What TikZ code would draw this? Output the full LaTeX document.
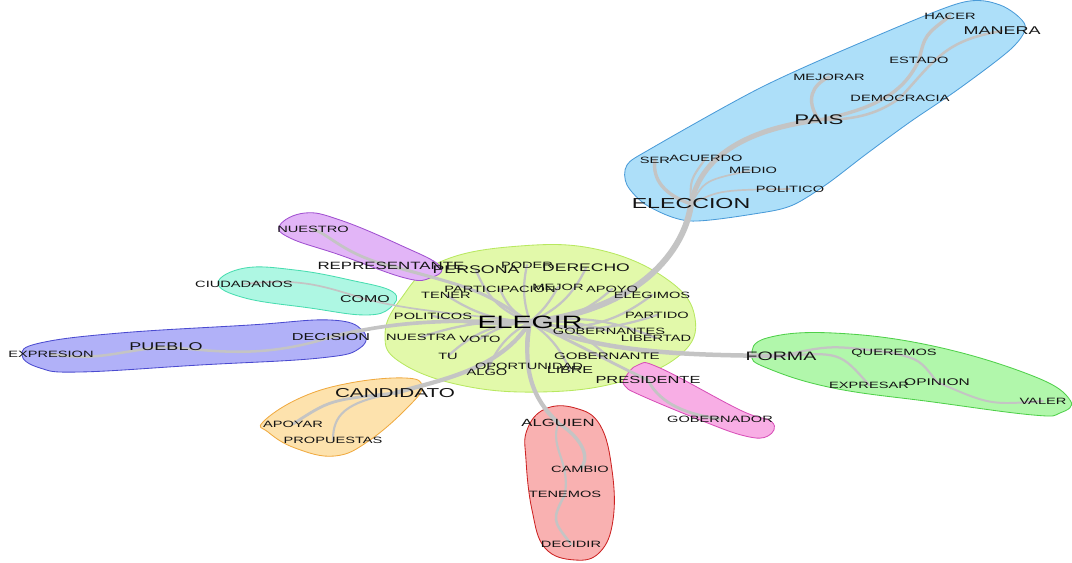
\documentclass[tikz,border=0pt]{standalone}
\usepackage{fontspec}
\setmainfont{Liberation Sans}
\usetikzlibrary{backgrounds}

\definecolor{edgegray}{HTML}{C4C4C4}
\definecolor{cenfill}{HTML}{E2F9AA}
\definecolor{cenline}{HTML}{B8E860}
\definecolor{bluefill}{HTML}{ADDFF9}
\definecolor{blueline}{HTML}{4A9BD8}
\definecolor{purpfill}{HTML}{E2B5F7}
\definecolor{purpline}{HTML}{A050D0}
\definecolor{mintfill}{HTML}{AEF7E3}
\definecolor{mintline}{HTML}{48DDB0}
\definecolor{violfill}{HTML}{B1B1F8}
\definecolor{violline}{HTML}{4B4BD0}
\definecolor{orfill}{HTML}{FDE2AD}
\definecolor{orline}{HTML}{F0AA40}
\definecolor{redfill}{HTML}{F9B1B1}
\definecolor{redline}{HTML}{CC2222}
\definecolor{pinkfill}{HTML}{F8AEE5}
\definecolor{pinkline}{HTML}{D84FB8}
\definecolor{grfill}{HTML}{B1F7AB}
\definecolor{grline}{HTML}{4FD04A}

\tikzset{
  word/.style={font=\fontsize{#1}{#1}\selectfont, xscale=1.6, inner sep=0pt, text=black!92},
  word/.default=6.5,
  blob/.style 2 args={fill=#1, draw=#2, line width=0.6pt},
  edge/.style={draw=edgegray, line width=#1, line cap=round},
  edge/.default=1.6pt
}

\begin{document}
\begin{tikzpicture}[x=0.025cm, y=-0.025cm]
	\useasboundingbox (0,0) rectangle (1072,563);

	% central cluster
	\node[word=12.7, text=black] (elegir) at (530,322) {ELEGIR};
	\node[word] (poder) at (527,265) {PODER};
	\node[word=7.9] (persona) at (476,270) {PERSONA};
	\node[word=7.8] (derecho) at (586,268) {DERECHO};
	\node[word] (participacion) at (500,289) {PARTICIPACION};
	\node[word] (mejor) at (558,287) {MEJOR};
	\node[word] (apoyo) at (612,289) {APOYO};
	\node[word] (tener) at (446,295) {TENER};
	\node[word] (elegimos) at (652,295) {ELEGIMOS};
	\node[word] (politicos) at (433,316) {POLITICOS};
	\node[word] (partido) at (657,315) {PARTIDO};
	\node[word] (nuestra) at (421,337) {NUESTRA};
	\node[word] (voto) at (480,339) {VOTO};
	\node[word] (gobernantes) at (609,331) {GOBERNANTES};
	\node[word] (libertad) at (656,338) {LIBERTAD};
	\node[word] (tu) at (448,356) {TU};
	\node[word=6.7] (gobernante) at (607,356) {GOBERNANTE};
	\node[word] (oportunidad) at (529,366) {OPORTUNIDAD};
	\node[word] (algo) at (487,372) {ALGO};
	\node[word=7.1] (libre) at (570,370) {LIBRE};

	% eleccion / pais
	\node[word=10.3] (eleccion) at (691,204) {ELECCION};
	\node[word] (ser) at (655,160) {SER};
	\node[word] (acuerdo) at (706,158) {ACUERDO};
	\node[word] (medio) at (753,170) {MEDIO};
	\node[word] (politico) at (790,189) {POLITICO};
	\node[word=9.9] (pais) at (819,120) {PAIS};
	\node[word] (mejorar) at (829,77) {MEJORAR};
	\node[word] (democracia) at (900,98) {DEMOCRACIA};
	\node[word] (estado) at (919,60) {ESTADO};
	\node[word] (hacer) at (950,16) {HACER};
	\node[word=8] (manera) at (1002,31) {MANERA};

	% left side
	\node[word=7.5] (representante) at (391,266) {REPRESENTANTE};
	\node[word] (nuestro) at (313,229) {NUESTRO};
	\node[word] (ciudadanos) at (244,284) {CIUDADANOS};
	\node[word=7.1] (como) at (365,299) {COMO};
	\node[word=7.2] (decision) at (331,337) {DECISION};
	\node[word=8] (pueblo) at (166,347) {PUEBLO};
	\node[word] (expresion) at (51,354) {EXPRESION};

	% bottom
	\node[word=9.2] (candidato) at (395,393) {CANDIDATO};
	\node[word] (apoyar) at (293,424) {APOYAR};
	\node[word] (propuestas) at (333,440) {PROPUESTAS};
	\node[word=7.4] (alguien) at (558,423) {ALGUIEN};
	\node[word] (cambio) at (580,469) {CAMBIO};
	\node[word] (tenemos) at (565,494) {TENEMOS};
	\node[word] (decidir) at (571,544) {DECIDIR};
	\node[word=7.3] (presidente) at (648,380) {PRESIDENTE};
	\node[word] (gobernador) at (720,419) {GOBERNADOR};

	% right
	\node[word=8.7] (forma) at (781,356) {FORMA};
	\node[word] (queremos) at (894,353) {QUEREMOS};
	\node[word] (expresar) at (869,385) {EXPRESAR};
	\node[word=6.9] (opinion) at (937,382) {OPINION};
	\node[word] (valer) at (1043,401) {VALER};

	\begin{scope}[on background layer]
	% blobs
	\draw[blob={cenfill}{cenline}] plot[smooth cycle, tension=0.7] coordinates {(400,300) (440,262) (520,246) (600,250) (668,280) (695,318) (680,355) (620,382) (540,392) (460,385) (400,362) (385,335)};
	\draw[blob={bluefill}{blueline}] plot[smooth cycle, tension=0.5] coordinates {(627,165) (652,148) (760,88) (860,43) (960,3) (1000,5) (1025,25) (1012,48) (960,88) (910,122) (865,155) (827,184) (793,205) (760,213) (690,221) (648,206) (627,185)};
	\draw[blob={purpfill}{purpline}] plot[smooth cycle, tension=0.7] coordinates {(280,225) (305,213) (340,220) (400,245) (440,266) (430,278) (405,278) (340,255) (290,238)};
	\draw[blob={mintfill}{mintline}] plot[smooth cycle, tension=0.7] coordinates {(218,283) (245,268) (295,270) (350,280) (393,292) (390,308) (365,315) (310,308) (245,298)};
	\draw[blob={violfill}{violline}] plot[smooth cycle, tension=0.7] coordinates {(22,355) (40,343) (120,333) (250,325) (330,320) (362,330) (360,348) (320,358) (200,365) (80,372) (40,368)};
	\draw[blob={orfill}{orline}] plot[smooth cycle, tension=0.7] coordinates {(263,422) (300,398) (350,383) (405,378) (422,386) (410,405) (370,440) (335,456) (295,448) (268,432)};
	\draw[blob={redfill}{redline}] plot[smooth cycle, tension=0.7] coordinates {(527,430) (545,409) (575,408) (600,425) (612,470) (613,520) (600,552) (575,560) (545,548) (532,510) (526,460)};
	\draw[blob={pinkfill}{pinkline}] plot[smooth cycle, tension=0.7] coordinates {(625,378) (638,365) (660,368) (740,410) (772,422) (768,436) (745,436) (700,420) (640,395) (625,386)};
	\draw[blob={grfill}{grline}] plot[smooth cycle, tension=0.7] coordinates {(752,355) (767,338) (833,333) (933,346) (1033,376) (1070,400) (1060,413) (1033,415) (933,402) (833,388) (767,368)};

	% spokes of the central word
	\foreach \n/\b in {poder/15, persona/25, derecho/-20, participacion/20, mejor/-10,
		apoyo/-20, tener/15, elegimos/-25, politicos/10, partido/-15, nuestra/-10,
		voto/-15, gobernantes/10, libertad/15, tu/-20, gobernante/20,
		oportunidad/-15, algo/-20, libre/15}
		\draw[edge] (elegir.center) to[bend left=\b] (\n.center);

	% branches
	\draw[edge=4.3pt] (elegir.center) .. controls (640,310) and (685,250) .. (eleccion.center);
	\draw[edge=3.6pt] (eleccion.center) .. controls (700,160) and (740,130) .. (pais.center);
	\draw[edge=2.4pt] (eleccion.center) .. controls (665,195) and (652,180) .. (ser.center);
	\draw[edge=1.5pt] (eleccion.center) .. controls (690,180) .. (acuerdo.center);
	\draw[edge=1.2pt] (eleccion.center) .. controls (705,180) .. (medio.center);
	\draw[edge=1.2pt] (eleccion.center) .. controls (720,190) .. (politico.center);
	\draw[edge=2.4pt] (pais.center) .. controls (805,100) and (812,85) .. (mejorar.center);
	\draw[edge=2.4pt] (pais.center) .. controls (880,108) and (905,90) .. (estado.center);
	\draw[edge=2.4pt] (estado.center) .. controls (925,35) .. (hacer.center);
	\draw[edge=1.8pt] (pais.center) .. controls (860,120) and (880,112) .. (democracia.center);
	\draw[edge=1.8pt] (democracia.center) .. controls (935,60) and (945,40) .. (manera.center);

	\draw[edge=2.2pt] (elegir.center) .. controls (480,290) .. (representante.center);
	\draw[edge=2pt] (representante.center) .. controls (345,255) and (330,235) .. (nuestro.center);
	\draw[edge=1.2pt] (elegir.center) .. controls (440,312) and (410,310) .. (como.center);
	\draw[edge=1.2pt] (como.center) .. controls (320,285) and (300,278) .. (ciudadanos.center);
	\draw[edge=2.6pt] (elegir.center) .. controls (450,320) and (400,320) .. (decision.center);
	\draw[edge=1.8pt] (decision.center) .. controls (260,360) and (210,350) .. (pueblo.center);
	\draw[edge=1.8pt] (pueblo.center) .. controls (120,350) and (100,362) .. (expresion.center);

	\draw[edge=3pt] (elegir.center) .. controls (500,370) and (440,380) .. (candidato.center);
	\draw[edge=2pt] (candidato.center) .. controls (330,400) .. (apoyar.center);
	\draw[edge=1.5pt] (candidato.center) .. controls (345,402) and (333,415) .. (propuestas.center);
	\draw[edge=3pt] (elegir.center) .. controls (520,380) and (540,405) .. (alguien.center);
	\draw[edge=2.4pt] (alguien.center) .. controls (585,440) and (590,460) .. (cambio.center);
	\draw[edge=1.5pt] (alguien.center) .. controls (550,450) and (570,460) .. (tenemos.center);
	\draw[edge=1.8pt] (tenemos.center) .. controls (552,520) .. (decidir.center);
	\draw[edge=2pt] (elegir.center) .. controls (590,350) and (615,365) .. (presidente.center);
	\draw[edge=2pt] (presidente.center) .. controls (660,405) and (690,415) .. (gobernador.center);

	\draw[edge=3.2pt] (elegir.center) .. controls (600,355) and (700,355) .. (forma.center);
	\draw[edge=1.6pt] (forma.center) .. controls (830,345) .. (queremos.center);
	\draw[edge=1.6pt] (forma.center) .. controls (840,352) .. (expresar.center);
	\draw[edge=1.6pt] (queremos.center) .. controls (920,360) .. (opinion.center);
	\draw[edge=1.4pt] (opinion.center) .. controls (990,405) .. (valer.center);
	\end{scope}
\end{tikzpicture}
\end{document}
